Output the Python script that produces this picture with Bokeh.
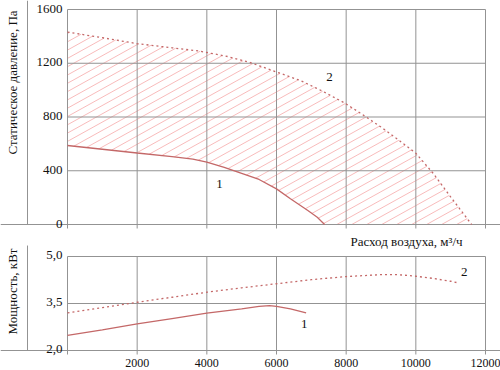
import numpy as np
from bokeh.plotting import figure
from bokeh.models import Range1d, Label
from bokeh.core.properties import value
from bokeh.embed import file_html
from bokeh.resources import INLINE

# ---------------- data ----------------
flow_ticks = [0, 2000, 4000, 6000, 8000, 10000, 12000]
flow_tick_labels = ["", "2000", "4000", "6000", "8000", "10000", "12000"]
pressure_ticks = [0, 400, 800, 1200, 1600]
pressure_tick_labels = ["0", "400", "800", "1200", "1600"]
power_ticks = [2.0, 3.5, 5.0]
power_tick_labels = ["2,0", "3,5", "5,0"]

# curve 1 (lower limit) – static pressure, Pa
q1 = [0, 1000, 2000, 3000, 3600, 4000, 4500, 5000, 5500, 6000, 6400, 6900, 7170, 7380]
p1 = [588, 560, 532, 505, 487, 464, 425, 380, 335, 265, 191, 104, 54, 0]
# curve 2 (upper limit) – static pressure, Pa
q2 = [0, 1000, 2000, 3000, 3800, 4000, 4600, 5250, 6000, 6700, 7300, 7950, 8400,
      9000, 9500, 10000, 10500, 11000, 11500, 11600]
p2 = [1432, 1390, 1346, 1315, 1290, 1280, 1250, 1205, 1135, 1070, 995, 905, 830,
      725, 630, 530, 380, 205, 35, 0]
# power, kW
qn1 = [0, 1000, 2000, 3000, 4000, 5000, 5500, 5800, 6000, 6400, 6850]
n1 = [2.48, 2.66, 2.85, 3.02, 3.19, 3.33, 3.41, 3.43, 3.41, 3.33, 3.20]
qn2 = [0, 1000, 2000, 3000, 4000, 5000, 6000, 7000, 8000, 9000, 9500, 10000, 10500, 11000, 11250]
n2 = [3.20, 3.37, 3.54, 3.70, 3.86, 4.00, 4.13, 4.26, 4.36, 4.42, 4.42, 4.37, 4.30, 4.21, 4.15]

# ---------------- layout ----------------
W, H = 500, 370
X0_PX = 67.0
PX_PER_Q = 418.0 / 12000
P0_PX = 224.0
PX_PER_P = 215.0 / 1600
N0_PX = 350.0
PX_PER_N = 94.0 / 3.0
LEFT_LINE_PX = 27.0

x_start, x_end = -X0_PX / PX_PER_Q, (W - X0_PX) / PX_PER_Q
p_start, p_end = -(H - P0_PX) / PX_PER_P, P0_PX / PX_PER_P
n_start, n_end = 2.0 - (H - N0_PX) / PX_PER_N, 2.0 + N0_PX / PX_PER_N
x_left = (LEFT_LINE_PX - X0_PX) / PX_PER_Q

GRID = "#939393"
CURVE = "#c46868"
HATCH = "#f7b3b3"
TXT = "#111111"
FONT = value("Liberation Serif")

p = figure(width=W, height=H, x_range=Range1d(x_start, x_end), y_range=Range1d(p_start, p_end),
           x_axis_type=None, y_axis_type=None, toolbar_location=None, output_backend="svg",
           min_border=0, outline_line_color=None, background_fill_color="white",
           border_fill_color="white")
p.extra_y_ranges = {"power": Range1d(n_start, n_end)}

# ---------------- hatch between curves ----------------
def upper(q):
    return np.interp(q, q2, p2)

def lower(q):
    return np.where(q <= q1[-1], np.interp(q, q1, p1), 0.0)

slope = np.tan(np.radians(29)) * PX_PER_Q / PX_PER_P
step = 8.3 / PX_PER_P
qs = np.linspace(0, q2[-1], 6000)
hx, hy = [], []
for c in np.arange(-slope * q2[-1] - step, max(p2) + step, step):
    pv = c + slope * qs
    inside = (pv >= lower(qs)) & (pv <= upper(qs))
    idx = np.flatnonzero(inside)
    if idx.size == 0:
        continue
    breaks = np.flatnonzero(np.diff(idx) > 1)
    starts = np.concatenate([[idx[0]], idx[breaks + 1]])
    ends = np.concatenate([idx[breaks], [idx[-1]]])
    for s, e in zip(starts, ends):
        hx.append([qs[s], qs[e]])
        hy.append([pv[s], pv[e]])
p.multi_line(hx, hy, line_color=HATCH, line_width=0.9)

# ---------------- grids / axes lines (pressure) ----------------
p.segment(x0=flow_ticks, y0=pressure_ticks[0], x1=flow_ticks, y1=pressure_ticks[-1],
          line_color=GRID, line_width=1)
p.segment(x0=flow_ticks[0], y0=pressure_ticks[1:], x1=flow_ticks[-1], y1=pressure_ticks[1:],
          line_color=GRID, line_width=1)
p.segment(x0=x_start, y0=0, x1=x_end, y1=0, line_color=GRID, line_width=1)
p.segment(x0=x_left, y0=0, x1=x_left, y1=p_end, line_color=GRID, line_width=1)
p.ray(x=flow_ticks, y=0, length=4, length_units="screen", angle=-np.pi / 2,
      line_color=GRID, line_width=1)

# ---------------- grids / axes lines (power) ----------------
p.segment(x0=flow_ticks, y0=power_ticks[0], x1=flow_ticks, y1=power_ticks[-1],
          line_color=GRID, line_width=1, y_range_name="power")
p.segment(x0=flow_ticks[0], y0=power_ticks[1:], x1=flow_ticks[-1], y1=power_ticks[1:],
          line_color=GRID, line_width=1, y_range_name="power")
p.segment(x0=x_start, y0=2.0, x1=x_end, y1=2.0, line_color=GRID, line_width=1,
          y_range_name="power")
p.segment(x0=x_left, y0=2.0, x1=x_left, y1=5.35, line_color=GRID, line_width=1,
          y_range_name="power")
p.ray(x=flow_ticks, y=2.0, length=4, length_units="screen", angle=-np.pi / 2,
      line_color=GRID, line_width=1, y_range_name="power")

# ---------------- curves ----------------
p.line(q1, p1, line_color=CURVE, line_width=1.3)
p.line(q2, p2, line_color=CURVE, line_width=1.3, line_dash="2 3")
p.line(qn1, n1, line_color=CURVE, line_width=1.3, y_range_name="power")
p.line(qn2, n2, line_color=CURVE, line_width=1.3, line_dash="2 3", y_range_name="power")

# ---------------- tick labels ----------------
p.text(x=[0] * len(pressure_ticks), y=pressure_ticks, text=pressure_tick_labels,
       text_align="right", text_baseline="alphabetic", x_offset=-5, y_offset=-1,
       text_font=FONT, text_font_size="13px", text_color=TXT)
p.text(x=[0] * len(power_ticks), y=power_ticks, text=power_tick_labels,
       text_align="right", text_baseline="alphabetic", x_offset=-5, y_offset=-2,
       text_font=FONT, text_font_size="13px", text_color=TXT, y_range_name="power")
p.text(x=flow_ticks, y=[2.0] * len(flow_ticks), text=flow_tick_labels,
       text_align="center", text_baseline="middle", y_offset=12,
       text_font=FONT, text_font_size="12px", text_color=TXT, y_range_name="power")

# ---------------- titles and curve labels ----------------
def lab(**kw):
    base = dict(text_font="Liberation Serif", text_font_size="13px", text_color=TXT)
    base.update(kw)
    p.add_layout(Label(**base))

lab(x=12, y=H - 82, x_units="screen", y_units="screen", angle=np.pi / 2,
    text="Статическое давление, Па", text_align="center", text_baseline="middle")
lab(x=12, y=H - 291, x_units="screen", y_units="screen", angle=np.pi / 2,
    text="Мощность, кВт", text_align="center", text_baseline="middle")
lab(x=350, y=H - 241, x_units="screen", y_units="screen",
    text="Расход воздуха, м³/ч", text_align="left", text_baseline="middle")

lab(x=4364, y=305, text="1", text_align="center", text_baseline="middle")
lab(x=7522, y=1094, text="2", text_align="center", text_baseline="middle")
lab(x=6800, y=2.84, text="1", text_align="center", text_baseline="middle", y_range_name="power")
lab(x=11390, y=4.50, text="2", text_align="center", text_baseline="middle", y_range_name="power")

open("out.html", "w").write(file_html(p, INLINE))
